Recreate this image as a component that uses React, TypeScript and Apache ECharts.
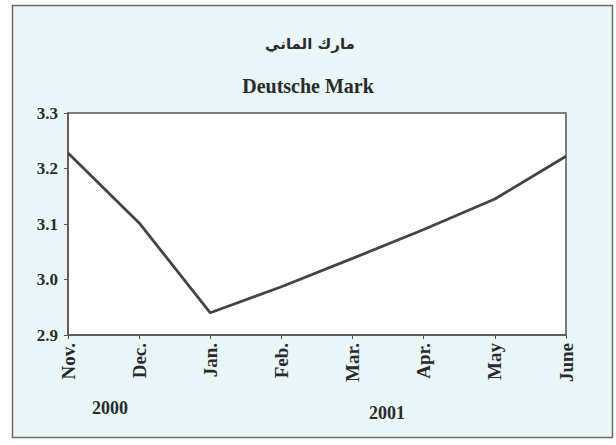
import React, { useEffect, useRef } from "react";
import * as echarts from "echarts";

const months = ["Nov.", "Dec.", "Jan.", "Feb.", "Mar.", "Apr.", "May", "June"];
const rates = [3.228, 3.102, 2.94, 2.987, 3.038, 3.09, 3.145, 3.222];
const yearLabels = ["2000", "2001"];
const titleAr = "مارك الماني";
const titleEn = "Deutsche Mark";

const serif = "'Liberation Serif', 'DejaVu Serif', 'DejaVu Sans', serif";

export default function App() {
  const ref = useRef<HTMLDivElement>(null);
  useEffect(() => {
    document.body.style.margin = "0";
    const chart = echarts.init(ref.current!, undefined, { renderer: "svg" });
    chart.setOption({
      animation: false,
      backgroundColor: "#ffffff",
      graphic: [
        {
          type: "rect",
          z: -10,
          shape: { x: 12.5, y: 5.5, width: 600, height: 432 },
          style: { fill: "#eaf7f9", stroke: "#6a6a6a", lineWidth: 1.5 },
        },
        {
          type: "text",
          x: 310,
          y: 44,
          style: {
            text: titleAr,
            font: `bold 15px 'DejaVu Sans', sans-serif`,
            fill: "#2a2a2a",
            align: "center",
            verticalAlign: "middle",
          },
        },
        {
          type: "text",
          x: 308,
          y: 86,
          style: {
            text: titleEn,
            font: `bold 20px ${serif}`,
            fill: "#2a2a2a",
            align: "center",
            verticalAlign: "middle",
          },
        },
        {
          type: "text",
          x: 110,
          y: 408,
          style: {
            text: yearLabels[0],
            font: `bold 18px ${serif}`,
            fill: "#2a2a2a",
            align: "center",
            verticalAlign: "middle",
          },
        },
        {
          type: "text",
          x: 387,
          y: 413,
          style: {
            text: yearLabels[1],
            font: `bold 18px ${serif}`,
            fill: "#2a2a2a",
            align: "center",
            verticalAlign: "middle",
          },
        },
      ],
      grid: {
        left: 68,
        right: 50,
        top: 113,
        bottom: 110,
        show: true,
        backgroundColor: "#ffffff",
        borderColor: "#555555",
        borderWidth: 1.5,
      },
      xAxis: {
        type: "category",
        data: months,
        boundaryGap: false,
        axisLine: { lineStyle: { color: "#555555", width: 1.5 } },
        axisTick: { show: true, inside: false, length: 4, lineStyle: { color: "#555555" } },
        axisLabel: {
          rotate: 90,
          margin: 8,
          fontFamily: serif,
          fontWeight: "bold",
          fontSize: 19,
          color: "#2a2a2a",
        },
        splitLine: { show: false },
      },
      yAxis: {
        type: "value",
        min: 2.9,
        max: 3.3,
        interval: 0.1,
        axisLine: { show: true, lineStyle: { color: "#555555", width: 1.5 } },
        axisTick: { show: true, length: 4, lineStyle: { color: "#555555" } },
        axisLabel: {
          margin: 10,
          fontFamily: serif,
          fontWeight: "bold",
          fontSize: 17,
          color: "#2a2a2a",
          formatter: (v: number) => v.toFixed(1),
        },
        splitLine: { show: false },
      },
      series: [
        {
          type: "line",
          data: rates,
          symbol: "none",
          lineStyle: { color: "#444444", width: 2.8 },
        },
      ],
    });
    return () => chart.dispose();
  }, []);
  return <div ref={ref} style={{ position: "absolute", left: 0, top: 0, width: 616, height: 445 }} />;
}
